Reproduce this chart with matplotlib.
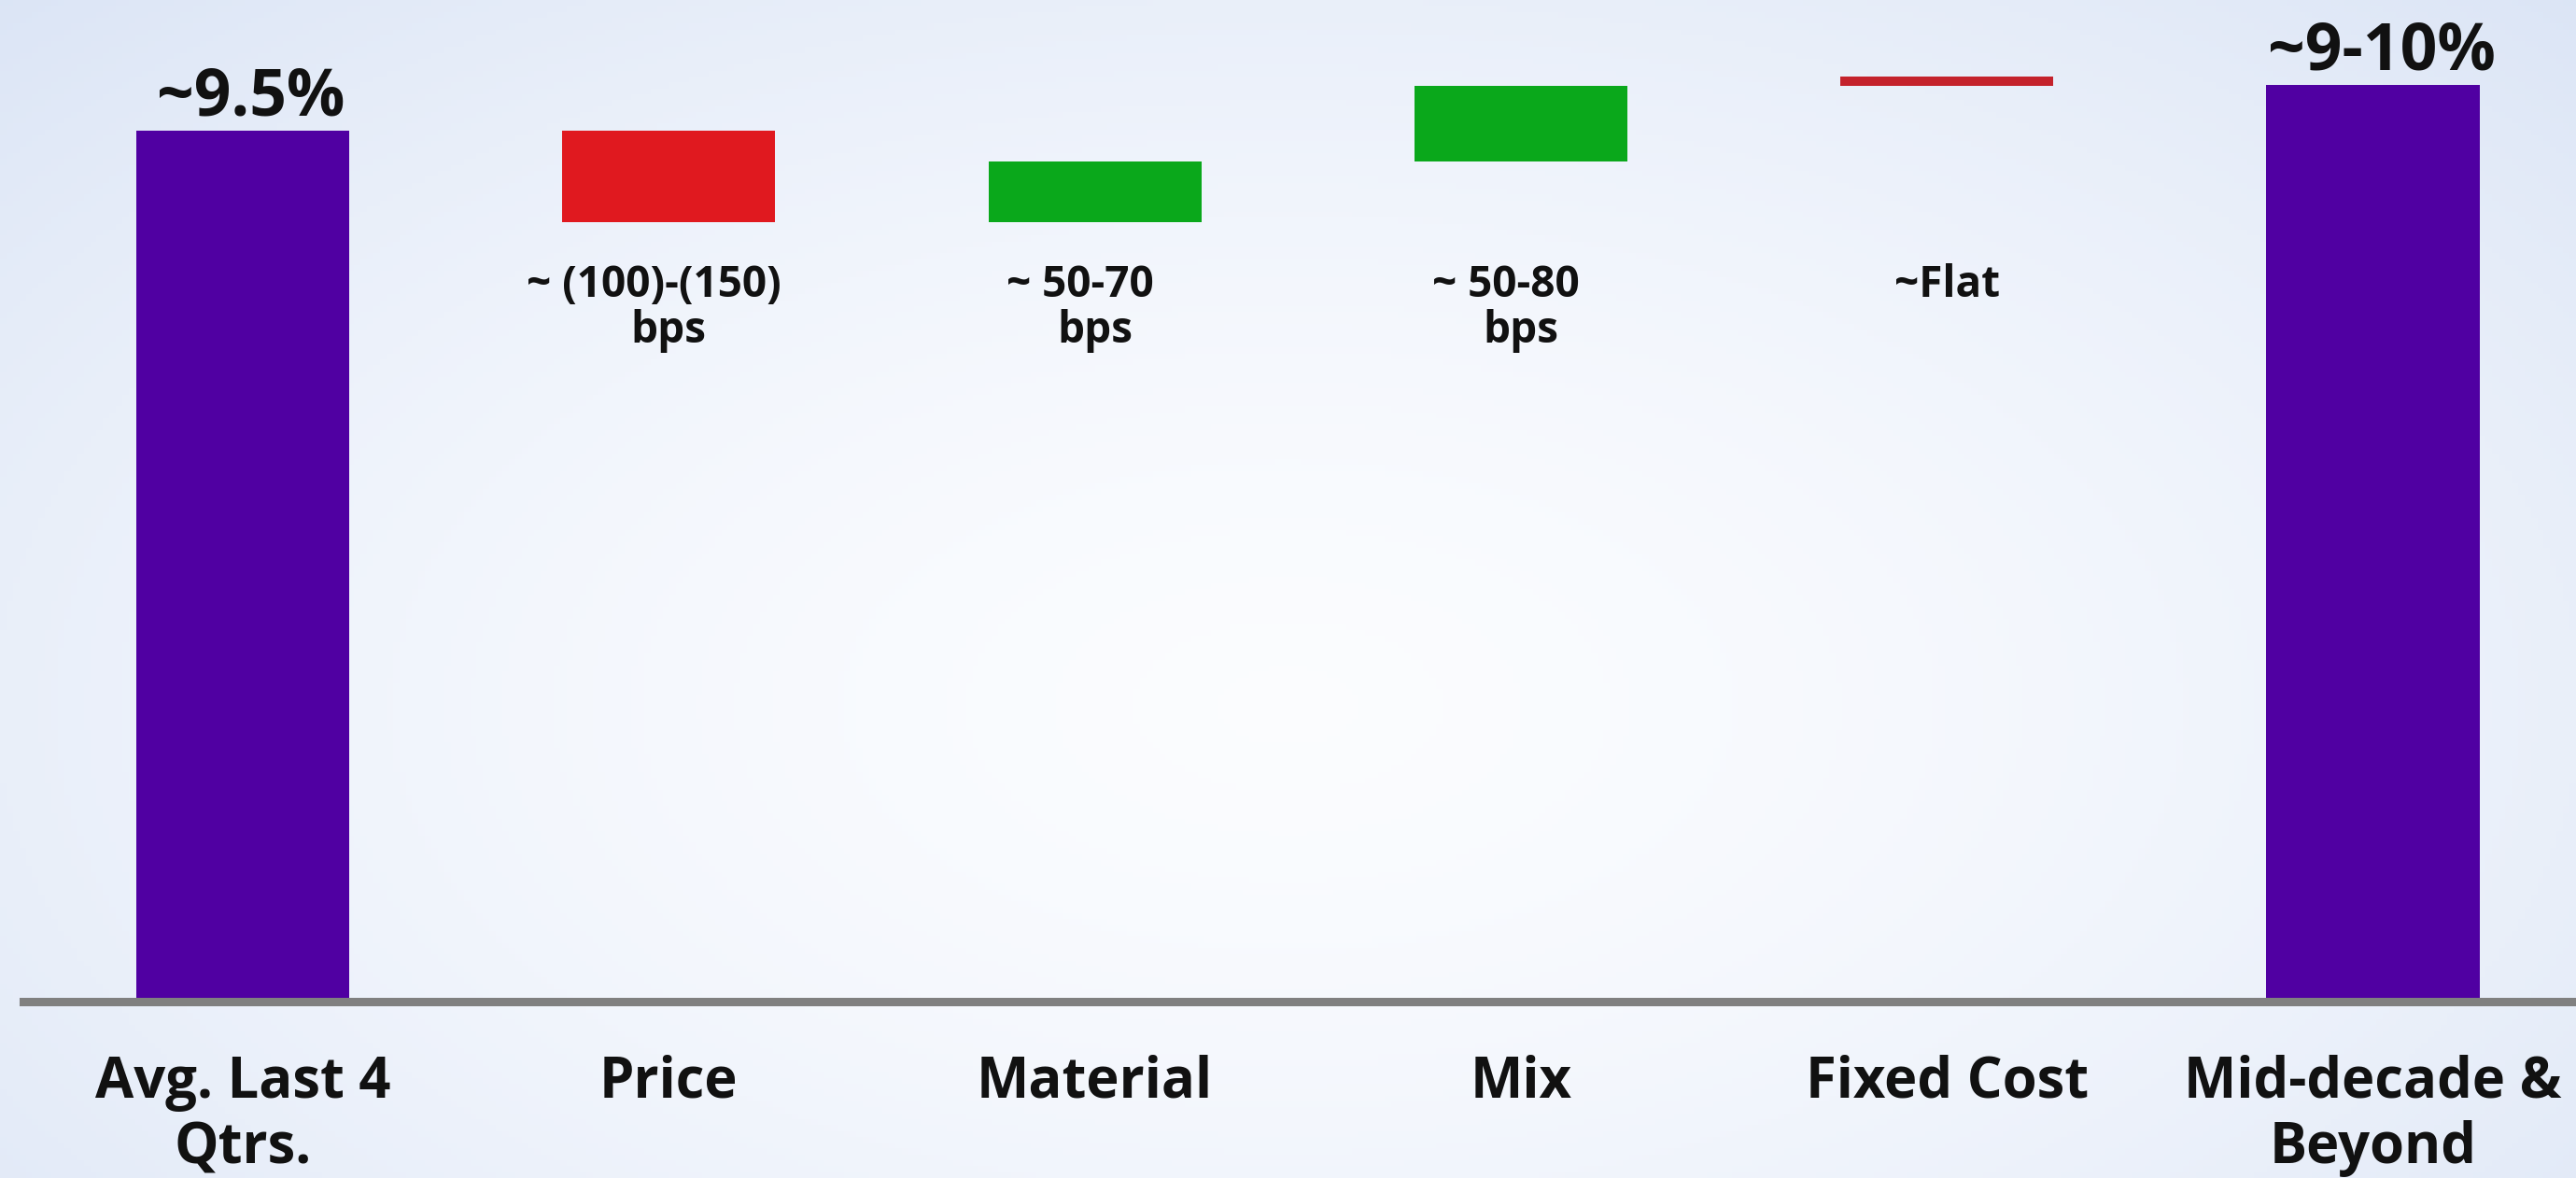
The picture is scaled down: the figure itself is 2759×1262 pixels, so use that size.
import numpy as np
import matplotlib
matplotlib.use("Agg")
import matplotlib.pyplot as plt

# ---------------- data ----------------
categories = ["Avg. Last 4\nQtrs.", "Price", "Material", "Mix", "Fixed Cost", "Mid-decade &\nBeyond"]
start_value = 9.5                     # Avg. Last 4 Qtrs. (%)
delta_values = [-1.0, 0.67, 0.82, 0.0]  # Price, Material, Mix, Fixed Cost (pct pts)
end_value = 10.0                      # Mid-decade & Beyond (%)
total_labels = ["~9.5%", "~9-10%"]
delta_labels = ["~ (100)-(150)\nbps", "~ 50-70\nbps", "~ 50-80\nbps", "~Flat"]

# ---------------- style ----------------
W, H, DPI = 2759, 1262, 100
PURPLE = "#5000a2"
RED = "#e0191f"
GREEN = "#0aa81b"
DARK_RED = "#c4222c"
delta_colors = [RED, GREEN, GREEN, DARK_RED]
FLAT_MARK = 0.10
FONT = ["Open Sans", "DejaVu Sans"]

fig = plt.figure(figsize=(W / DPI, H / DPI), dpi=DPI)

# background gradient (decorative)
bg = fig.add_axes([0, 0, 1, 1], zorder=-10)
yy, xx = np.mgrid[0:1:200j, 0:1:400j]
d = np.sqrt(((xx - 0.5) / 0.75) ** 2 + ((yy - 0.6) / 0.9) ** 2)
t = np.clip(d, 0, 1) ** 1.6
c0 = np.array([0.985, 0.99, 1.0])
c1 = np.array([0.85, 0.89, 0.96])
img = c0[None, None, :] * (1 - t[..., None]) + c1[None, None, :] * t[..., None]
bg.imshow(img, extent=[0, 1, 0, 1], aspect="auto", origin="upper")
bg.set_axis_off()

# main axes
left_px, zero_px, unit_px = 25, 1073, 98.2
centers0_px, spacing_px = 260, 456.3
ax = fig.add_axes([left_px / W, (H - zero_px) / H, 1 - left_px / W, zero_px / H])
ax.set_facecolor("none")
ax.set_xlim((left_px - centers0_px) / spacing_px, (W - centers0_px) / spacing_px)
ax.set_ylim(0, zero_px / unit_px)

x = np.arange(len(categories))
bw = 0.5

# totals
ax.bar(x[0], start_value, width=bw, color=PURPLE, zorder=2)
ax.bar(x[-1], end_value, width=bw, color=PURPLE, zorder=2)
for xi, val, lab in [(x[0], start_value, total_labels[0]), (x[-1], end_value, total_labels[1])]:
    ax.text(xi + 0.02, val + 0.17, lab, ha="center", va="baseline",
            fontsize=50, fontweight="bold", family=FONT, color="#111111")

# deltas
cum = start_value
for i, (dv, col, lab) in enumerate(zip(delta_values, delta_colors, delta_labels)):
    xi = x[i + 1]
    if dv == 0:
        ax.bar(xi, FLAT_MARK, bottom=cum, width=bw, color=col, zorder=2)
    else:
        ax.bar(xi, abs(dv), bottom=min(cum, cum + dv), width=bw, color=col, zorder=2)
    cum += dv
    lines = lab.split("\n")
    first_shift = -0.035 if len(lines) > 1 else 0.0
    ax.text(xi + first_shift, 8.055, lines[0], ha="center", va="top", fontsize=33,
            fontweight="bold", family=FONT, color="#111111")
    if len(lines) > 1:
        ax.text(xi, 7.56, lines[1], ha="center", va="top", fontsize=33,
                fontweight="bold", family=FONT, color="#111111")

# axis styling
for s in ["top", "right", "left"]:
    ax.spines[s].set_visible(False)
ax.spines["bottom"].set_color("#808080")
ax.spines["bottom"].set_linewidth(6.5)
ax.spines["bottom"].set_zorder(3)
ax.set_yticks([])
ax.set_xticks(x)
ax.set_xticklabels(categories, fontsize=43, fontweight="bold", family=FONT, color="#111111")
ax.tick_params(axis="x", length=0, pad=41)

fig.savefig("out.png", dpi=DPI)
